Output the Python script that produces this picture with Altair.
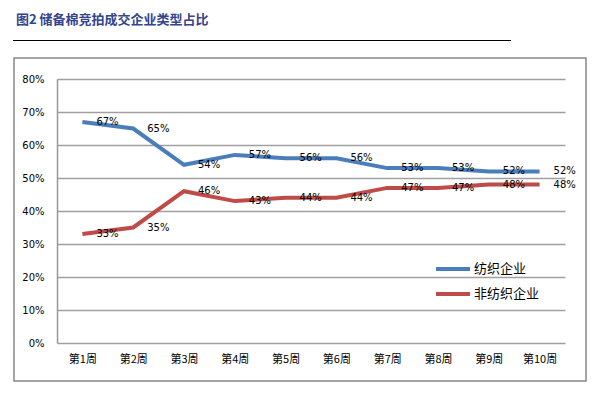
import altair as alt
import pandas as pd

weeks = ["第1周", "第2周", "第3周", "第4周", "第5周", "第6周", "第7周", "第8周", "第9周", "第10周"]
textile = [67, 65, 54, 57, 56, 56, 53, 53, 52, 52]
non_textile = [33, 35, 46, 43, 44, 44, 47, 47, 48, 48]
series_names = ["纺织企业", "非纺织企业"]
colors = ["#4a7ebb", "#be4b48"]
y_ticks = [0, 0.1, 0.2, 0.3, 0.4, 0.5, 0.6, 0.7, 0.8]
title_text = "图2  储备棉竞拍成交企业类型占比"

rows = []
for name, vals in zip(series_names, [textile, non_textile]):
    for w, v in zip(weeks, vals):
        rows.append({"week": w, "series": name, "value": v / 100})
df = pd.DataFrame(rows)

CJK = "Noto Sans CJK SC"
NUM = "DejaVu Sans"

x_enc = alt.X("week:N", sort=weeks, scale=alt.Scale(padding=0.5),
              axis=alt.Axis(title=None, labelAngle=0, ticks=False, domain=False,
                            labelFont=CJK, labelFontSize=11, labelColor="#000",
                            labelPadding=10))
y_enc = alt.Y("value:Q", scale=alt.Scale(domain=[0, 0.8], nice=False),
              axis=alt.Axis(title=None, values=y_ticks, format=".0%", ticks=False,
                            tickCount=9, labelOverlap=False,
                            domain=True, domainColor="#999", domainWidth=1.5,
                            grid=True, gridColor="#a0a0a0", gridWidth=1.5,
                            labelFont=NUM, labelFontSize=10, labelColor="#000",
                            labelPadding=13))
color_enc = alt.Color("series:N", scale=alt.Scale(domain=series_names, range=colors),
                      legend=alt.Legend(title=None, orient="none", legendX=384, legendY=178,
                                        symbolType="M-1.7,0H1.7", symbolSize=400,
                                        symbolStrokeWidth=4, labelFont=CJK,
                                        labelFontSize=13, labelColor="#000",
                                        labelOffset=9, padding=0, rowPadding=5))

lines = alt.Chart(df).mark_line(strokeWidth=4).encode(x=x_enc, y=y_enc, color=color_enc)
labels = alt.Chart(df).mark_text(align="left", baseline="middle", dx=14, font=NUM,
                                 fontSize=10, color="#000").encode(
    x=alt.X("week:N", sort=weeks), y="value:Q",
    text=alt.Text("value:Q", format=".0%"))

deco_df = pd.DataFrame({"t": [title_text]})
frame = alt.Chart(deco_df).mark_rect(fill=None, stroke="#888", strokeWidth=1.5).encode(
    x=alt.value(-43), x2=alt.value(529), y=alt.value(-21), y2=alt.value(302))
rule = alt.Chart(deco_df).mark_rule(color="#000", strokeWidth=1).encode(
    x=alt.value(-44), x2=alt.value(454), y=alt.value(-38.5))
title = alt.Chart(deco_df).mark_text(align="left", baseline="alphabetic", font=CJK,
                                     fontSize=13, fontWeight="bold", color="#35448c").encode(
    x=alt.value(-41), y=alt.value(-55), text="t:N")

chart = alt.layer(frame, rule, title, lines, labels).properties(
    width=508, height=264, autosize=alt.AutoSizeParams(type="none"),
    padding={"left": 49, "top": 71, "right": 28, "bottom": 45},
    background="white"
).configure_view(stroke=None)

chart.save("out.html", embed_options={"renderer": "svg", "actions": False})
